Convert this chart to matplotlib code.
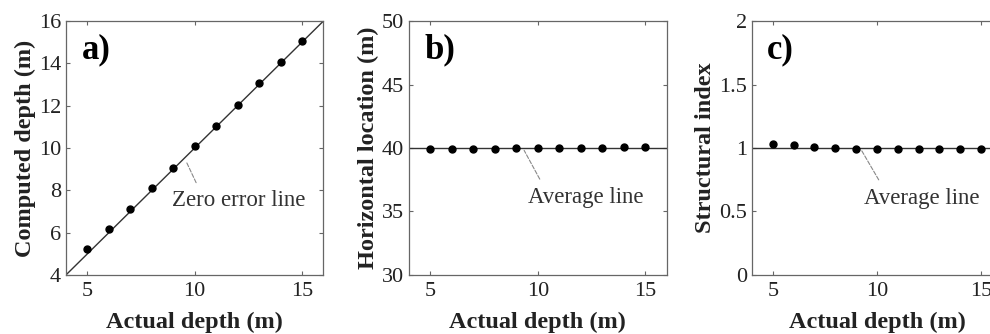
# Profundidad, posicion horizontal e indice estructural
# calculados frente a la profundidad real

import matplotlib
matplotlib.use('Agg')
import matplotlib.pyplot as plt

# Datos

profundidad_real = [5, 6, 7, 8, 9, 10, 11, 12, 13, 14, 15]
profundidad_calc = [5.2, 6.15, 7.1, 8.1, 9.05, 10.1, 11.05, 12.05, 13.05, 14.05, 15.05]
posicion_horiz = [39.95, 39.95, 39.95, 39.95, 40.0, 40.0, 40.0, 40.02, 40.02, 40.05, 40.05]
indice_estructural = [1.034, 1.02, 1.01, 1.0, 0.995, 0.995, 0.992, 0.992, 0.992, 0.992, 0.992]

linea_cero = [4, 16]
promedio_b = 40
promedio_c = 1

yticks_a = [4, 6, 8, 10, 12, 14, 16]
yticks_b = [30, 35, 40, 45, 50]
yticks_c = [0, 0.5, 1, 1.5, 2]
yticklabels_c = ['0', '0.5', '1', '1.5', '2']
xticks = [5, 10, 15]

# Estilo

plt.rcParams['font.family'] = ['Liberation Serif', 'DejaVu Serif']
plt.rcParams['font.size'] = 16
plt.rcParams['axes.edgecolor'] = '#666666'
plt.rcParams['axes.linewidth'] = 0.9
plt.rcParams['xtick.direction'] = 'in'
plt.rcParams['ytick.direction'] = 'in'
plt.rcParams['xtick.top'] = True
plt.rcParams['ytick.right'] = True
plt.rcParams['xtick.color'] = '#666666'
plt.rcParams['ytick.color'] = '#666666'
plt.rcParams['xtick.labelcolor'] = '#222222'
plt.rcParams['ytick.labelcolor'] = '#222222'
plt.rcParams['xtick.major.size'] = 3
plt.rcParams['ytick.major.size'] = 3
plt.rcParams['xtick.major.pad'] = 5

fig = plt.figure(figsize=(9.9, 3.34), dpi=100)

ax_a = fig.add_axes([0.0667, 0.177, 0.26, 0.76])
ax_b = fig.add_axes([0.413, 0.177, 0.2606, 0.76])
ax_c = fig.add_axes([0.7596, 0.177, 0.2525, 0.76])

etiqueta = dict(fontsize=17.5, fontweight='bold', color='#222222')
guia = dict(arrowstyle='-', linestyle='--', color='#888888', lw=0.8)

# Grafica a

ax_a.plot(linea_cero, linea_cero, color='#333333', lw=1.0)
ax_a.plot(profundidad_real, profundidad_calc, 'o', color='black', markersize=5)
ax_a.set_xlim(4, 16)
ax_a.set_ylim(4, 16)
ax_a.set_xticks(xticks)
ax_a.set_yticks(yticks_a)
ax_a.set_xlabel('Actual depth (m)', labelpad=8, **etiqueta)
ax_a.set_ylabel('Computed depth (m)', labelpad=2, **etiqueta)
ax_a.text(0.06, 0.95, 'a)', transform=ax_a.transAxes, fontsize=25,
          fontweight='bold', va='top')
ax_a.text(8.95, 7.53, 'Zero error line', fontsize=16.5, color='#333333', va='center')
ax_a.annotate('', xy=(9.56, 9.45), xytext=(10.12, 8.24), arrowprops=guia)

# Grafica b

ax_b.axhline(promedio_b, color='#333333', lw=1.0)
ax_b.plot(profundidad_real, posicion_horiz, 'o', color='black', markersize=5)
ax_b.set_xlim(4, 16)
ax_b.set_ylim(30, 50)
ax_b.set_xticks(xticks)
ax_b.set_yticks(yticks_b)
ax_b.set_xlabel('Actual depth (m)', labelpad=8, **etiqueta)
ax_b.set_ylabel('Horizontal location (m)', labelpad=2, **etiqueta)
ax_b.text(0.06, 0.95, 'b)', transform=ax_b.transAxes, fontsize=25,
          fontweight='bold', va='top')
ax_b.text(9.54, 36.1, 'Average line', fontsize=16.5, color='#333333', va='center')
ax_b.annotate('', xy=(9.3, 40.0), xytext=(10.15, 37.35), arrowprops=guia)

# Grafica c

ax_c.axhline(promedio_c, color='#333333', lw=1.0)
ax_c.plot(profundidad_real, indice_estructural, 'o', color='black', markersize=5)
ax_c.set_xlim(4, 16)
ax_c.set_ylim(0, 2)
ax_c.set_xticks(xticks)
ax_c.set_yticks(yticks_c)
ax_c.set_yticklabels(yticklabels_c)
ax_c.set_xlabel('Actual depth (m)', labelpad=8, **etiqueta)
ax_c.set_ylabel('Structural index', labelpad=2, **etiqueta)
ax_c.text(0.06, 0.95, 'c)', transform=ax_c.transAxes, fontsize=25,
          fontweight='bold', va='top')
ax_c.text(9.38, 0.6, 'Average line', fontsize=16.5, color='#333333', va='center')
ax_c.annotate('', xy=(9.19, 1.0), xytext=(10.15, 0.73), arrowprops=guia)

plt.savefig('out.png', dpi=100)
